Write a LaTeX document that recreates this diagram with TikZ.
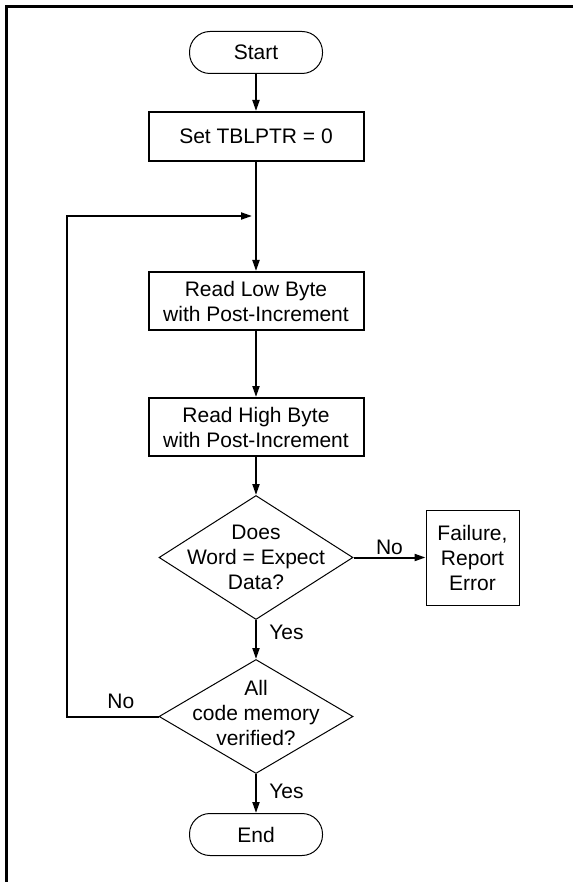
\documentclass[tikz,border=0pt]{standalone}
\usepackage{fontspec}
\setmainfont{Liberation Sans}
\usetikzlibrary{arrows.meta,positioning,shapes.geometric}

\tikzset{
	terminal/.style={draw, line width=1pt, rounded corners=20.5pt, minimum width=133pt, minimum height=42pt},
	process/.style={draw, line width=2pt, align=center, minimum width=215pt, minimum height=58pt, inner sep=2pt},
	decision/.style={draw, diamond, line width=1pt, minimum width=194pt, inner sep=0pt},
	decisiontext/.style={align=center},
	report/.style={draw, line width=1pt, align=center, minimum width=93pt, minimum height=95pt},
	flow/.style={line width=2pt, -{Triangle[length=11pt, width=7pt]}},
}

\begin{document}
\begin{tikzpicture}[font=\fontsize{21}{25}\selectfont]
	\useasboundingbox (0,0) rectangle (573pt,-882pt);
	% Frame
	\draw[line width=2.2pt] (6.5pt,-882pt) -- (6.5pt,-6.5pt) -- (573pt,-6.5pt);
	% Draw the steps
	\node[terminal]                          (start)    at (256pt,-52.5pt) {Start};
	\node[process, minimum height=49pt, below=37pt of start] (init) {Set TBLPTR = 0};
	\node[process, below=109pt of init]      (readlow)  {Read Low Byte\\with Post-Increment};
	\node[process, below=66pt of readlow]    (readhigh) {Read High Byte\\with Post-Increment};
	\node[decision, minimum height=124pt, below=38pt of readhigh,
		label={[decisiontext]center:Does\\Word = Expect\\Data?}] (check) {};
	\node[report, right=72pt of check]       (fail)     {Failure,\\Report\\Error};
	\node[decision, minimum height=114pt, below=39pt of check,
		label={[decisiontext, yshift=4pt]center:All\\code memory\\verified?}] (alldone) {};
	\node[terminal, below=39pt of alldone]   (finish)   {End};
	\coordinate[below=54pt of init] (join);
	% Connect the steps with arrows
	\draw[flow] (start) -- (init);
	\draw[flow] (init) -- (readlow);
	\draw[flow] (readlow) -- (readhigh);
	\draw[flow] (readhigh) -- (check);
	\draw[flow] (check) -- node[above, inner sep=2pt, midway] {No} (fail);
	\draw[flow] (check) -- node[right=9pt, pos=0.33] {Yes} (alldone);
	\draw[flow] (alldone) -- node[right=9pt, pos=0.45] {Yes} (finish);
	\draw[flow] (alldone.west) -- node[above=3pt, pos=0.41] {No} ++(-92pt,0) |- ([xshift=-4pt]join);
\end{tikzpicture}
\end{document}
